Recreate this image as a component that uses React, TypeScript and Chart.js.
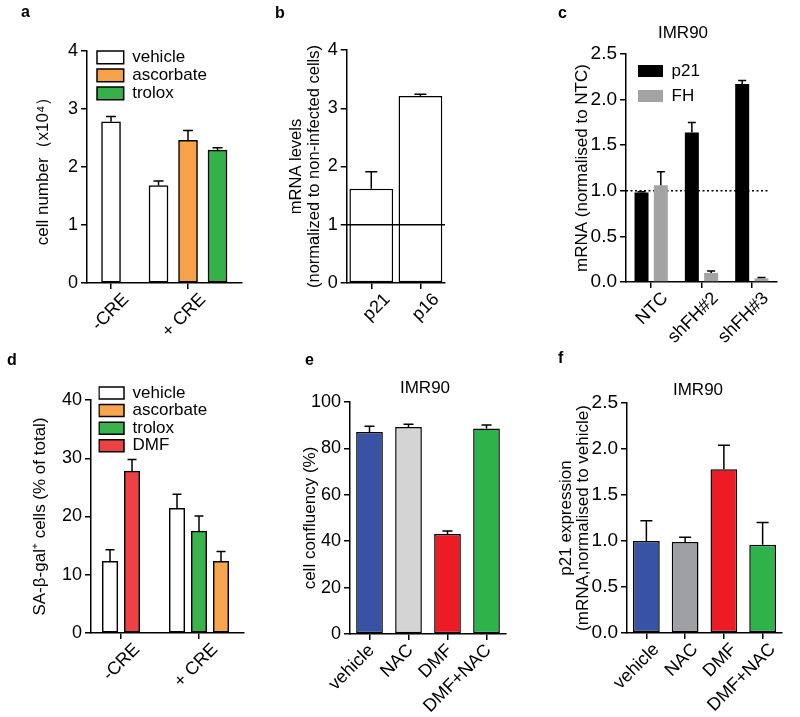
import React, { useEffect, useRef } from 'react';
import { Chart, registerables } from 'chart.js';

Chart.register(...registerables);

const FONT = "'Liberation Sans', Arial, Helvetica, sans-serif";
const BLACK = '#000000';

// ---------- Panel a ----------
const A_GROUPS = ['-CRE', '+ CRE'];
const A_X = [0, 1];
const A_VEHICLE = [2.78, 1.68];
const A_VEHICLE_ERR = [0.09, 0.08];
const A_ASCORBATE = [null, 2.46];
const A_ASCORBATE_ERR = [null, 0.17];
const A_TROLOX = [null, 2.29];
const A_TROLOX_ERR = [null, 0.04];

// ---------- Panel b ----------
const B_GENES = ['p21', 'p16'];
const B_VALUES = [1.62, 3.21];
const B_ERR = [0.29, 0.03];

// ---------- Panel c ----------
const C_GROUPS = ['NTC', 'shFH#2', 'shFH#3'];
const C_P21 = [0.98, 1.64, 2.17];
const C_P21_ERR = [0.01, 0.11, 0.04];
const C_FH = [1.06, 0.1, 0.04];
const C_FH_ERR = [0.15, 0.02, 0.01];

// ---------- Panel d ----------
const D_GROUPS = ['-CRE', '+ CRE'];
const D_X = [0, 1];
const D_VEHICLE = [12.3, 21.4];
const D_VEHICLE_ERR = [2.0, 2.4];
const D_ASCORBATE = [null, 12.3];
const D_ASCORBATE_ERR = [null, 1.7];
const D_TROLOX = [null, 17.5];
const D_TROLOX_ERR = [null, 2.6];
const D_DMF = [27.8, null];
const D_DMF_ERR = [2.0, null];

// ---------- Panel e ----------
const E_TREATMENTS = ['vehicle', 'NAC', 'DMF', 'DMF+NAC'];
const E_VALUES = [87.1, 89.2, 43.1, 88.6];
const E_ERR = [2.4, 1.2, 1.3, 1.5];

// ---------- Panel f ----------
const F_TREATMENTS = ['vehicle', 'NAC', 'DMF', 'DMF+NAC'];
const F_VALUES = [1.0, 0.99, 1.78, 0.96];
const F_ERR = [0.22, 0.05, 0.26, 0.24];

// ---------- plugins ----------
const errorBarPlugin = {
  id: 'errorBars',
  afterDatasetsDraw(chart: any, _args: any, opts: any) {
    const ctx = chart.ctx;
    const yScale = chart.scales.y;
    chart.data.datasets.forEach((ds: any, di: number) => {
      const errs = ds.errors;
      if (!errs) return;
      const meta = chart.getDatasetMeta(di);
      meta.data.forEach((bar: any, i: number) => {
        const parsed = meta.controller.getParsed(i);
        const val = parsed ? parsed.y : null;
        const e = errs[i];
        if (val == null || e == null || isNaN(val)) return;
        const yTop = yScale.getPixelForValue(val + e);
        const yBase = yScale.getPixelForValue(val);
        const half = opts.cap ?? 5;
        ctx.save();
        ctx.strokeStyle = BLACK;
        ctx.lineWidth = opts.lineWidth ?? 1.5;
        ctx.beginPath();
        ctx.moveTo(bar.x, yBase);
        ctx.lineTo(bar.x, yTop);
        ctx.moveTo(bar.x - half, yTop);
        ctx.lineTo(bar.x + half, yTop);
        ctx.stroke();
        ctx.restore();
      });
    });
  },
};

function drawRefLine(chart: any, opts: any) {
  const ctx = chart.ctx;
  const y = chart.scales.y.getPixelForValue(opts.value);
  const { left, right } = chart.chartArea;
  ctx.save();
  ctx.strokeStyle = BLACK;
  ctx.lineWidth = opts.lineWidth ?? 1.5;
  ctx.setLineDash(opts.dash || []);
  ctx.beginPath();
  ctx.moveTo(left, y);
  ctx.lineTo(right - (opts.rightInset || 0), y);
  ctx.stroke();
  ctx.restore();
}

const refLinePlugin = {
  id: 'refLine',
  beforeDatasetsDraw(chart: any, _a: any, opts: any) {
    if (opts && opts.value != null && !opts.onTop) drawRefLine(chart, opts);
  },
  afterDatasetsDraw(chart: any, _a: any, opts: any) {
    if (opts && opts.value != null && opts.onTop) drawRefLine(chart, opts);
  },
};

const nudgePlugin = {
  id: 'nudge',
  afterLayout(chart: any, _a: any, opts: any) {
    if (opts && opts.legend && chart.legend) {
      const L = chart.legend;
      const { x, y, pad, fs, bh } = opts.legend;
      const w = L.width;
      const h = L.height;
      L.left = x - pad;
      L.top = y - pad - (fs - bh) / 2;
      L.right = L.left + w;
      L.bottom = L.top + h;
    }
    if (opts && opts.titleX != null && chart.titleBlock) {
      const T = chart.titleBlock;
      const w = T.right - T.left;
      T.left = opts.titleX - w / 2;
      T.right = opts.titleX + w / 2;
    }
  },
};

const PLUGINS = [errorBarPlugin, refLinePlugin, nudgePlugin];

// ---------- builders ----------
interface Geom { x0: number; y0: number; w: number; h: number; left: number; right: number; top: number; bottom: number; }

function yScale(g: Geom, p: { min: number; max: number; step: number; decimals: number; title: string | string[]; titleSize: number; titleLH: number; titleCenterX: number; tickSize: number; }) {
  const lh = p.titleSize * p.titleLH;
  return {
    type: 'linear',
    min: p.min,
    max: p.max,
    ticks: {
      stepSize: p.step,
      color: BLACK,
      font: { family: FONT, size: p.tickSize },
      padding: 3,
      callback: (v: any) => Number(v).toFixed(p.decimals),
    },
    grid: { drawOnChartArea: false, drawTicks: true, tickLength: 6, tickColor: BLACK, tickWidth: 1.5, color: BLACK, lineWidth: 1.5 },
    border: { display: true, color: BLACK, width: 1.5 },
    title: {
      display: true,
      text: p.title,
      color: BLACK,
      font: { family: FONT, size: p.titleSize, lineHeight: p.titleLH },
      padding: { top: p.titleCenterX - g.x0 - lh / 2, bottom: 0 },
    },
    afterFit: (axis: any) => { axis.width = g.left - g.x0; },
  };
}

function xCommon(g: Geom, labelOffset: number, tickSize: number) {
  return {
    grid: { offset: false, drawOnChartArea: false, drawTicks: true, tickLength: 6, tickColor: BLACK, tickWidth: 1.5, color: BLACK, lineWidth: 1.5 },
    border: { display: true, color: BLACK, width: 1.5 },
    afterFit: (axis: any) => { axis.height = g.y0 + g.h - g.bottom; },
    ticksBase: {
      color: BLACK,
      font: { family: FONT, size: tickSize },
      minRotation: 45,
      maxRotation: 45,
      autoSkip: false,
      padding: 0,
      labelOffset,
    },
  };
}

function xCategory(g: Geom, labelOffset: number, tickSize: number) {
  const c = xCommon(g, labelOffset, tickSize);
  return { type: 'category', offset: true, grid: c.grid, border: c.border, afterFit: c.afterFit, ticks: c.ticksBase };
}

function xLinear(g: Geom, positions: number[], labels: string[], min: number, max: number, labelOffset: number, tickSize: number) {
  const c = xCommon(g, labelOffset, tickSize);
  return {
    type: 'linear',
    offset: false,
    min,
    max,
    grid: c.grid,
    border: c.border,
    afterFit: c.afterFit,
    afterBuildTicks: (axis: any) => { axis.ticks = positions.map((v) => ({ value: v })); },
    ticks: { ...c.ticksBase, callback: (_v: any, i: number) => labels[i] },
  };
}

function baseOptions(g: Geom, hasTitle: boolean) {
  return {
    responsive: false,
    maintainAspectRatio: false,
    animation: false,
    events: [],
    layout: { padding: { left: 0, right: g.x0 + g.w - g.right, top: hasTitle ? 0 : g.top - g.y0, bottom: 0 } },
  };
}

function titleOpts(g: Geom, text: string, centerY: number) {
  const size = 17;
  const lh = size * 1.2;
  const pt = centerY - g.y0 - lh / 2;
  const pb = g.top - g.y0 - pt - lh;
  return { display: true, text, color: BLACK, font: { family: FONT, size, weight: 'normal', lineHeight: 1.2 }, padding: { top: pt, bottom: pb } };
}

function legendOpts(box: { w: number; h: number; pad: number; fs: number }) {
  return {
    display: true,
    position: 'chartArea',
    align: 'start',
    labels: {
      boxWidth: box.w,
      boxHeight: box.h,
      padding: box.pad,
      color: BLACK,
      font: { family: FONT, size: box.fs },
      sort: (a: any, b: any) => a.datasetIndex - b.datasetIndex,
    },
  };
}

// ---------- panel configs ----------
const GA: Geom = { x0: 0, y0: 0, w: 260, h: 356, left: 87, right: 242, top: 51, bottom: 283 };
function configA(): any {
  const mk = (vals: (number | null)[], errs: (number | null)[], label: string, color: string, order: number) => ({
    label,
    data: A_X.map((x, i) => ({ x, y: vals[i] })),
    errors: errs,
    backgroundColor: color,
    borderColor: BLACK,
    borderWidth: 1.5,
    borderSkipped: false,
    order,
    skipNull: true,
    barThickness: 29.5,
    maxBarThickness: 19,
  });
  return {
    type: 'bar',
    data: {
      datasets: [
        mk(A_VEHICLE, A_VEHICLE_ERR, 'vehicle', '#ffffff', 0),
        mk(A_ASCORBATE, A_ASCORBATE_ERR, 'ascorbate', '#f7a24a', 1),
        mk(A_TROLOX, A_TROLOX_ERR, 'trolox', '#35b14a', 2),
      ],
    },
    options: {
      ...baseOptions(GA, false),
      scales: {
        x: xLinear(GA, A_X, A_GROUPS, -0.312, 1.701, 15, 18),
        y: yScale(GA, { min: 0, max: 4, step: 1, decimals: 0, title: 'cell number（x10⁴）', titleSize: 17, titleLH: 1.2, titleCenterX: 43, tickSize: 18 }),
      },
      plugins: {
        legend: legendOpts({ w: 26.7, h: 12.7, pad: 1, fs: 17 }),
        tooltip: { enabled: false },
        errorBars: { cap: 5 },
        nudge: { legend: { x: 97, y: 51, pad: 1, fs: 17, bh: 12.7 } },
      },
    },
    plugins: PLUGINS,
  };
}

const GB: Geom = { x0: 260, y0: 0, w: 260, h: 356, left: 346.7, right: 445, top: 50, bottom: 283 };
function configB(): any {
  return {
    type: 'bar',
    data: {
      labels: B_GENES,
      datasets: [{
        label: 'mRNA levels',
        data: B_VALUES,
        errors: B_ERR,
        backgroundColor: '#ffffff',
        borderColor: BLACK,
        borderWidth: 1.5,
        borderSkipped: false,
        categoryPercentage: 1,
        barPercentage: 0.89,
      }],
    },
    options: {
      ...baseOptions(GB, false),
      scales: {
        x: xCategory(GB, 16, 18),
        y: yScale(GB, { min: 0, max: 4, step: 1, decimals: 0, title: ['mRNA levels', '(normalized to non-infected cells)'], titleSize: 16.5, titleLH: 1.1, titleCenterX: 296, tickSize: 18 }),
      },
      plugins: {
        legend: { display: false },
        tooltip: { enabled: false },
        errorBars: { cap: 6 },
        refLine: { value: 1, onTop: true, lineWidth: 1.5 },
      },
    },
    plugins: PLUGINS,
  };
}

const GC: Geom = { x0: 520, y0: 0, w: 280, h: 356, left: 626, right: 777, top: 54, bottom: 282 };
function configC(): any {
  const mk = (vals: number[], errs: number[], label: string, color: string) => ({
    label,
    data: vals,
    errors: errs,
    backgroundColor: color,
    borderColor: color,
    borderWidth: 0,
    categoryPercentage: 0.767,
    barPercentage: 0.725,
  });
  return {
    type: 'bar',
    data: {
      labels: C_GROUPS,
      datasets: [mk(C_P21, C_P21_ERR, 'p21', '#000000'), mk(C_FH, C_FH_ERR, 'FH', '#a3a3a3')],
    },
    options: {
      ...baseOptions(GC, true),
      scales: {
        x: xCategory(GC, 14, 18),
        y: yScale(GC, { min: 0, max: 2.5, step: 0.5, decimals: 1, title: 'mRNA (normalised to NTC)', titleSize: 17, titleLH: 1.2, titleCenterX: 582, tickSize: 19 }),
      },
      plugins: {
        title: titleOpts(GC, 'IMR90', 33),
        legend: legendOpts({ w: 25, h: 12, pad: 8, fs: 17 }),
        tooltip: { enabled: false },
        errorBars: { cap: 4 },
        refLine: { value: 1, onTop: false, dash: [2, 2.5], lineWidth: 1.5, rightInset: 7 },
        nudge: { legend: { x: 638 - 520, y: 65, pad: 8, fs: 17, bh: 12 }, titleX: 683 - 520 },
      },
    },
    plugins: PLUGINS,
  };
}

const GD: Geom = { x0: 0, y0: 340, w: 260, h: 377, left: 91, right: 244, top: 400, bottom: 633 };
function configD(): any {
  const mk = (vals: (number | null)[], errs: (number | null)[], label: string, color: string, order: number) => ({
    label,
    data: D_X.map((x, i) => ({ x, y: vals[i] })),
    errors: errs,
    backgroundColor: color,
    borderColor: BLACK,
    borderWidth: 1.5,
    borderSkipped: false,
    order,
    skipNull: true,
    barThickness: 22,
    maxBarThickness: 15.5,
  });
  return {
    type: 'bar',
    data: {
      datasets: [
        mk(D_VEHICLE, D_VEHICLE_ERR, 'vehicle', '#ffffff', 0),
        mk(D_ASCORBATE, D_ASCORBATE_ERR, 'ascorbate', '#f7a64f', 2),
        mk(D_TROLOX, D_TROLOX_ERR, 'trolox', '#3ab34a', 1),
        mk(D_DMF, D_DMF_ERR, 'DMF', '#ec4246', 3),
      ],
    },
    options: {
      ...baseOptions(GD, false),
      scales: {
        x: xLinear(GD, D_X, D_GROUPS, -0.385, 1.577, 16, 18),
        y: yScale(GD, { min: 0, max: 40, step: 10, decimals: 0, title: 'SA-β-gal⁺ cells (% of total)', titleSize: 17, titleLH: 1.2, titleCenterX: 40, tickSize: 18 }),
      },
      plugins: {
        legend: legendOpts({ w: 25, h: 12, pad: 0.6, fs: 17 }),
        tooltip: { enabled: false },
        errorBars: { cap: 4.5 },
        nudge: { legend: { x: 99, y: 387 - 340, pad: 0.6, fs: 17, bh: 12 } },
      },
    },
    plugins: PLUGINS,
  };
}

const GE: Geom = { x0: 260, y0: 340, w: 260, h: 377, left: 350, right: 506, top: 402, bottom: 634 };
function configE(): any {
  return {
    type: 'bar',
    data: {
      labels: E_TREATMENTS,
      datasets: [{
        label: 'cell confluency',
        data: E_VALUES,
        errors: E_ERR,
        backgroundColor: ['#3953a4', '#d4d4d4', '#ed1c24', '#2db34a'],
        borderColor: BLACK,
        borderWidth: 1.5,
        borderSkipped: false,
        categoryPercentage: 1,
        barPercentage: 0.685,
      }],
    },
    options: {
      ...baseOptions(GE, true),
      scales: {
        x: xCategory(GE, 2, 18),
        y: yScale(GE, { min: 0, max: 100, step: 20, decimals: 0, title: 'cell confluency (%)', titleSize: 17, titleLH: 1.2, titleCenterX: 310, tickSize: 18 }),
      },
      plugins: {
        title: titleOpts(GE, 'IMR90', 388),
        legend: { display: false },
        tooltip: { enabled: false },
        errorBars: { cap: 5 },
        nudge: { titleX: 425 - 260 },
      },
    },
    plugins: PLUGINS,
  };
}

const GF: Geom = { x0: 520, y0: 340, w: 280, h: 377, left: 627, right: 782, top: 403, bottom: 633 };
function configF(): any {
  return {
    type: 'bar',
    data: {
      labels: F_TREATMENTS,
      datasets: [{
        label: 'p21 expression',
        data: F_VALUES,
        errors: F_ERR,
        backgroundColor: ['#3953a4', '#9fa0a3', '#ed1c24', '#2db34a'],
        borderColor: BLACK,
        borderWidth: 1.5,
        borderSkipped: false,
        categoryPercentage: 1,
        barPercentage: 0.69,
      }],
    },
    options: {
      ...baseOptions(GF, true),
      scales: {
        x: xCategory(GF, 10, 18),
        y: yScale(GF, { min: 0, max: 2.5, step: 0.5, decimals: 1, title: ['p21 expression', '(mRNA,normalised to vehicle)'], titleSize: 17, titleLH: 1.0, titleCenterX: 566, tickSize: 19 }),
      },
      plugins: {
        title: titleOpts(GF, 'IMR90', 390),
        legend: { display: false },
        tooltip: { enabled: false },
        errorBars: { cap: 6 },
        nudge: { titleX: 698 - 520 },
      },
    },
    plugins: PLUGINS,
  };
}

function ChartPanel({ g, make }: { g: Geom; make: () => any }) {
  const ref = useRef<HTMLCanvasElement>(null);
  useEffect(() => {
    if (!ref.current) return;
    const chart = new Chart(ref.current, make());
    return () => chart.destroy();
  }, []);
  return (
    <canvas
      ref={ref}
      width={g.w}
      height={g.h}
      style={{ position: 'absolute', left: g.x0, top: g.y0, width: g.w, height: g.h }}
    />
  );
}

const LETTERS = [
  { t: 'a', x: 21, y: 4 },
  { t: 'b', x: 275, y: 4.5 },
  { t: 'c', x: 558, y: 4.5 },
  { t: 'd', x: 7, y: 351.5 },
  { t: 'e', x: 305, y: 351.5 },
  { t: 'f', x: 558, y: 349.5 },
];

export default function App() {
  return (
    <div style={{ position: 'absolute', left: 0, top: 0, width: 800, height: 717, background: '#ffffff', overflow: 'hidden' }}>
      <ChartPanel g={GA} make={configA} />
      <ChartPanel g={GB} make={configB} />
      <ChartPanel g={GC} make={configC} />
      <ChartPanel g={GD} make={configD} />
      <ChartPanel g={GE} make={configE} />
      <ChartPanel g={GF} make={configF} />
      {LETTERS.map((l) => (
        <div
          key={l.t}
          style={{ position: 'absolute', left: l.x, top: l.y, fontFamily: FONT, fontWeight: 'bold', fontSize: 16, lineHeight: '16px', color: BLACK }}
        >
          {l.t}
        </div>
      ))}
    </div>
  );
}
